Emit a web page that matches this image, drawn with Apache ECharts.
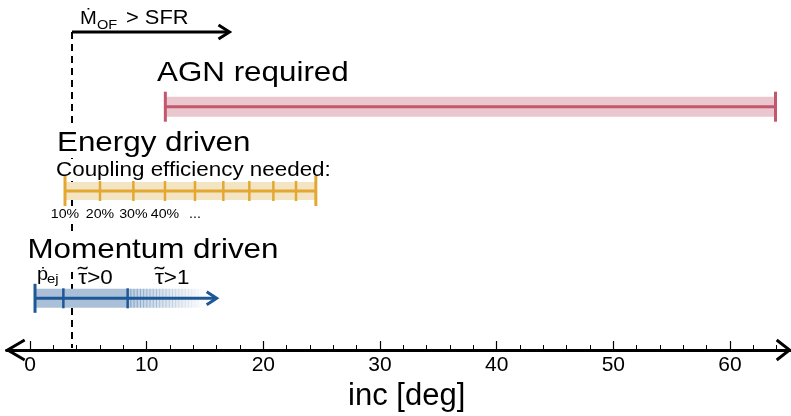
<!DOCTYPE html>
<html><head><meta charset="utf-8">
<script src="https://cdn.jsdelivr.net/npm/echarts@6/dist/echarts.min.js"></script>
<style>html,body{margin:0;padding:0;background:#fff}#c{width:791px;height:416px}</style>
</head><body><div id="c"></div><script>
// ---------------- data ----------------
const xMajorTicks = [0, 10, 20, 30, 40, 50, 60];
const xMinorTicks = [2,4,6,8,12,14,16,18,22,24,26,28,32,34,36,38,42,44,46,48,52,54,56,58,62,64];
const xExtent = [-2, 65.2];
const sfrArrow = [3.6, 17.1];             // Mdot_OF > SFR from 3.6 deg
const agnRange = [11.6, 63.9];            // AGN required
const energyTicks = [3.0, 6.0, 8.86, 11.57, 14.14, 16.57, 18.8, 20.86, 22.8, 24.5];
const energyLabels = ['10%', '20%', '30%', '40%', '...'];
const momentumMarks = [0.43, 2.86, 8.37]; // start, p_ej limit, tau>0 limit
const momentumArrowEnd = 16.0;
const momentumFadeEnd = 15.2;
const momentumLabels = ['>0', '>1'];      // drawn after a tilde-tau

// ---------------- layout (not data) ----------------
const LANE = { sfr: 31.8, agn: 24.33, energy: 15.9, momentum: 5.17 };
const FONT = 'Liberation Sans, Arial, Helvetica, sans-serif';
const SX = 1.12;
const C = {
  agnLine: '#c4566e', agnFill: '#eac7ce',
  enLine: '#e3a832', enFill: '#f3e4c3',
  moLine: '#1d5796', moFill: '#aac0d9'
};
const mctx = document.createElement('canvas').getContext('2d');
function measure(text, size) { mctx.font = size + 'px ' + FONT; return mctx.measureText(text).width; }

function txt(x, y, text, size, opts) {
  opts = opts || {};
  const sx = opts.sx || SX;
  const st = { text: text, fontSize: size, fontFamily: FONT, fill: '#000',
    align: opts.align || 'left', verticalAlign: 'middle' };
  let dx = 0;
  if (opts.bg) {
    st.backgroundColor = '#fff';
    st.padding = opts.pad || [0, 2, 0, 2];
    if ((opts.align || 'left') === 'left') dx = -st.padding[3] * sx;
  }
  return { type: 'text', x: x + dx, y: y, scaleX: sx, scaleY: 1, z: opts.z || 10, style: st };
}
function vline(x, y1, y2, color, w) {
  return { type: 'line', shape: { x1: x, y1: y1, x2: x, y2: y2 }, style: { stroke: color, lineWidth: w } };
}
function hline(x1, x2, y, color, w) {
  return { type: 'line', shape: { x1: x1, y1: y, x2: x2, y2: y }, style: { stroke: color, lineWidth: w } };
}
function chevron(x, y, dx, dy, color, w) {
  return { type: 'polyline', shape: { points: [[x + dx, y - dy], [x, y], [x + dx, y + dy]] },
    style: { stroke: color, lineWidth: w, fill: null } };
}
// "tilde tau" label centred on cx
function tauLabel(cx, y, rest, size) {
  const wt = measure('τ', size) * SX, wr = measure(rest, size) * SX;
  const left = cx - (wt + wr) / 2;
  return [
    txt(left, y, 'τ', size),
    txt(left + wt / 2, y - size * 0.12, '˜', size, { align: 'center', sx: 1.5 }),
    txt(left + wt, y, rest, size)
  ];
}

const chart = echarts.init(document.getElementById('c'), null, { renderer: 'canvas' });

const option = {
  animation: false,
  backgroundColor: '#fff',
  grid: { left: 6.67, right: 0.33, top: 0, bottom: 66, containLabel: false, outerBoundsMode: 'none' },
  xAxis: [{
    type: 'value', min: xExtent[0], max: xExtent[1], position: 'bottom',
    axisLine: { show: true, lineStyle: { color: '#000', width: 3 } },
    axisTick: { show: true, inside: true, length: 9, lineStyle: { color: '#000', width: 1.2 }, customValues: xMajorTicks },
    axisLabel: { show: true, customValues: xMajorTicks, fontSize: 21, fontFamily: FONT, color: '#000', margin: 5 },
    splitLine: { show: false },
    name: 'inc [deg]', nameLocation: 'middle', nameGap: 27,
    nameTextStyle: { fontSize: 31, fontFamily: FONT, color: '#000', padding: [0, 0, 0, 16] }
  }, {
    type: 'value', min: xExtent[0], max: xExtent[1], position: 'bottom', offset: 0,
    axisLine: { show: false },
    axisTick: { show: true, inside: true, length: 5, lineStyle: { color: '#000', width: 1 }, customValues: xMinorTicks },
    axisLabel: { show: false }, splitLine: { show: false }
  }],
  yAxis: { type: 'value', min: 0, max: 35, show: false },
  series: [
    // dashed threshold line
    {
      type: 'custom', z: 1, data: [[sfrArrow[0]]],
      renderItem: function (p, api) {
        const a = api.coord([api.value(0), LANE.sfr]);
        const b = api.coord([api.value(0), 0]);
        return { type: 'line', shape: { x1: a[0], y1: a[1], x2: b[0], y2: b[1] - 2 },
          style: { stroke: '#000', lineWidth: 2, lineDash: [7, 5] } };
      }
    },
    // Mdot_OF > SFR arrow
    {
      type: 'custom', z: 5, data: [sfrArrow],
      renderItem: function (p, api) {
        const a = api.coord([api.value(0), LANE.sfr]);
        const b = api.coord([api.value(1), LANE.sfr]);
        return { type: 'group', children: [
          hline(a[0], b[0] - 1, a[1], '#000', 3),
          chevron(b[0], b[1], -11, 7, '#000', 3),
          txt(a[0] + 8, a[1] - 13, 'Ṁ', 18),
          txt(a[0] + 25, a[1] - 7, 'OF', 13),
          txt(a[0] + 54, a[1] - 13, '> SFR', 19.5)
        ] };
      }
    },
    // AGN required
    {
      type: 'custom', z: 3, data: [agnRange],
      renderItem: function (p, api) {
        const a = api.coord([api.value(0), LANE.agn]);
        const b = api.coord([api.value(1), LANE.agn]);
        return { type: 'group', children: [
          { type: 'rect', shape: { x: a[0], y: a[1] - 10, width: b[0] - a[0], height: 20 }, style: { fill: C.agnFill } },
          hline(a[0], b[0], a[1], C.agnLine, 3),
          vline(a[0], a[1] - 15, a[1] + 15, C.agnLine, 3),
          vline(b[0], b[1] - 15, b[1] + 15, C.agnLine, 3)
        ] };
      }
    },
    // Energy driven
    {
      type: 'custom', z: 3, data: [energyTicks],
      renderItem: function (p, api) {
        const xs = energyTicks.map(function (v) { return api.coord([v, LANE.energy]); });
        const a = xs[0], b = xs[xs.length - 1];
        const ch = [
          { type: 'rect', shape: { x: a[0], y: a[1] - 9, width: b[0] - a[0], height: 18 }, style: { fill: C.enFill } },
          hline(a[0], b[0], a[1], C.enLine, 3)
        ];
        xs.forEach(function (pt, i) {
          const end = (i === 0 || i === xs.length - 1);
          ch.push(vline(pt[0], pt[1] - (end ? 15 : 10), pt[1] + (end ? 15 : 10), C.enLine, end ? 3 : 2.5));
        });
        energyLabels.forEach(function (t, i) {
          ch.push(txt(xs[i][0], xs[i][1] + 23, t, 13.5, { align: 'center', sx: 1.05, bg: true, pad: [1, 1, 1, 1] }));
        });
        return { type: 'group', children: ch };
      }
    },
    // Momentum driven
    {
      type: 'custom', z: 3, data: [momentumMarks],
      renderItem: function (p, api) {
        const m = momentumMarks.map(function (v) { return api.coord([v, LANE.momentum]); });
        const e = api.coord([momentumArrowEnd, LANE.momentum]);
        const f = api.coord([momentumFadeEnd, LANE.momentum]);
        const y = m[0][1];
        const ch = [
          { type: 'rect', shape: { x: m[0][0], y: y - 9.5, width: m[2][0] - m[0][0], height: 19 }, style: { fill: C.moFill } },
          { type: 'rect', shape: { x: m[2][0], y: y - 9.5, width: f[0] - m[2][0], height: 19 },
            style: { fill: { type: 'linear', x: 0, y: 0, x2: 1, y2: 0, colorStops: [
              { offset: 0, color: 'rgba(170,192,217,0.8)' }, { offset: 1, color: 'rgba(170,192,217,0)' } ] } } }
        ];
        const n = Math.floor((f[0] - m[2][0]) / 3.2);
        for (let i = 1; i < n; i++) {
          const xx = m[2][0] + i * 3.2;
          ch.push({ type: 'line', shape: { x1: xx, y1: y - 9.5, x2: xx, y2: y + 9.5 },
            style: { stroke: C.moLine, lineWidth: 0.8, opacity: 0.5 * (1 - i / n) } });
        }
        ch.push(hline(m[0][0], e[0] - 1, y, C.moLine, 3));
        ch.push(chevron(e[0], y, -10, 6.5, C.moLine, 3));
        ch.push(vline(m[0][0], y - 14.5, y + 14.5, C.moLine, 3));
        ch.push(vline(m[1][0], y - 10, y + 10, C.moLine, 2.5));
        ch.push(vline(m[2][0], y - 10, y + 10, C.moLine, 2.5));
        // labels
        ch.push(txt(m[0][0] + 2, y - 24, 'ṗ', 19, { sx: 1.05 }));
        ch.push(txt(m[0][0] + 12, y - 19, 'ej', 13.5, { sx: 1.1 }));
        Array.prototype.push.apply(ch, tauLabel((m[1][0] + m[2][0]) / 2, y - 20, momentumLabels[0], 20));
        Array.prototype.push.apply(ch, tauLabel((m[2][0] + e[0]) / 2, y - 20, momentumLabels[1], 20));
        return { type: 'group', children: ch };
      }
    },
    // axis arrow heads
    {
      type: 'custom', z: 6, data: [xExtent],
      renderItem: function (p, api) {
        const a = api.coord([api.value(0), 0]);
        const b = api.coord([api.value(1), 0]);
        return { type: 'group', children: [
          chevron(a[0] + 1, a[1], 17, 10, '#000', 3),
          chevron(b[0] - 1, b[1], -13, 10, '#000', 3)
        ] };
      }
    }
  ],
  graphic: [
    txt(157, 73, 'AGN required', 28, { z: 2, bg: true }),
    txt(57, 143, 'Energy driven', 28, { z: 2, bg: true, pad: [0, 2, 2, 2] }),
    txt(56, 170, 'Coupling efficiency needed:', 20, { z: 2, bg: true, pad: [2, 2, 0, 2] }),
    txt(27.5, 250, 'Momentum driven', 28, { z: 2, bg: true, pad: [0, 2, 8, 2] })
  ]
};
chart.setOption(option);
</script></body></html>
